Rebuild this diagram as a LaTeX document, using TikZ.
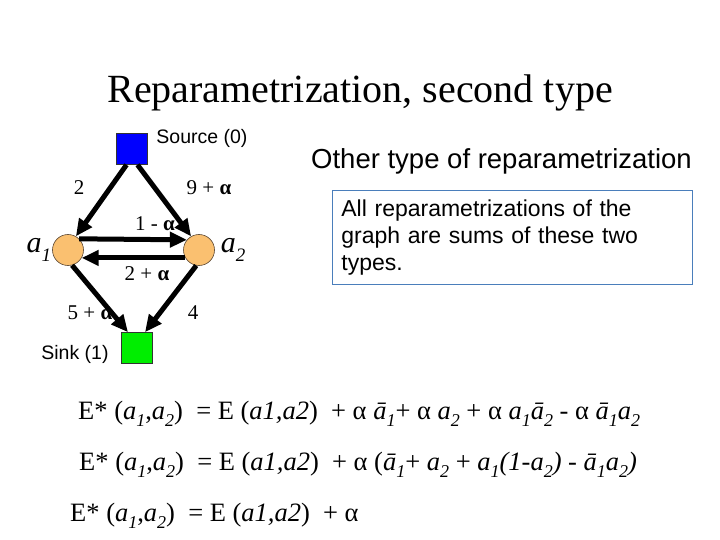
\documentclass[tikz,border=0pt]{standalone}
\usepackage{fontspec}
\setmainfont{Liberation Serif}
\newfontfamily\arialf{Liberation Sans}
\usetikzlibrary{arrows.meta}
\definecolor{srcblue}{RGB}{0,0,255}
\definecolor{sinkgreen}{RGB}{0,238,0}
\definecolor{nodeorange}{RGB}{250,192,112}
\definecolor{nodeedge}{RGB}{90,70,50}
\definecolor{boxblue}{RGB}{74,126,187}
\newcommand\sbx[1]{\raisebox{-0.28em}{\fontsize{18}{18}\selectfont\itshape #1}}
\newcommand\va[1]{\textit{a}\sbx{#1}}
\newcommand\vab[1]{\textit{ā}\sbx{#1}}
\newcommand\lsb[1]{\raisebox{-0.28em}{\fontsize{19}{19}\selectfont\itshape #1}}
\begin{document}
\begin{tikzpicture}[x=1pt,y=-1pt,
  sq/.style={draw=black!80, line width=0.6pt, minimum size=31pt, inner sep=0pt},
  circ/.style={circle, draw=nodeedge, line width=0.6pt, fill=nodeorange, minimum size=31pt, inner sep=0pt},
  arr/.style={line width=5pt, -{Triangle[length=17pt,width=15pt]}},
  elab/.style={font=\fontsize{21}{21}\selectfont, inner sep=0pt},
  sanslab/.style={font=\arialf\fontsize{19.5}{19.5}\selectfont, inner sep=0pt},
  eqn/.style={font=\fontsize{26.5}{26.5}\selectfont, anchor=base west, inner sep=0pt}]
\useasboundingbox (0,0) rectangle (720,540);
\fill[white] (0,0) rectangle (720,540);

% title
\node[font=\fontsize{40}{40}\selectfont, anchor=base, inner sep=0pt] (title) at (360,103) {Reparametrization, second type};

% graph nodes
\node[sq, fill=srcblue] (s) at (131.5,149) {};
\node[sq, fill=sinkgreen] (t) at (137,348) {};
\node[circ] (a1) at (68,250) {};
\node[circ] (a2) at (199,250) {};

\node[sanslab] (slab) at (202,138) {Source (0)};
\node[sanslab] (tlab) at (75,354) {Sink (1)};
\node[font=\fontsize{30}{30}\selectfont, inner sep=0pt] (a1lab) at (39,250) {\textit{a}\lsb{1}};
\node[font=\fontsize{30}{30}\selectfont, inner sep=0pt] (a2lab) at (233,250) {\textit{a}\lsb{2}};

% connectors
\draw[arr] ([xshift=-5pt]s.south) -- (a1.60);
\draw[arr] ([xshift=6pt]s.south) -- (a2.120);
\draw[arr] (a1.45) -- (a2.140);
\draw[arr] (a2.-150) -- (a1.-30);
\draw[arr] (a1.-75) -- ([xshift=-9pt]t.north);
\draw[arr] (a2.-100) -- ([xshift=8pt]t.north);

% edge labels
\node[elab] (l1) at (79,188) {2};
\node[elab] (l2) at (209,188) {9 + \textbf{α}};
\node[elab] (l3) at (155,224) {1 - \textbf{α}};
\node[elab] (l4) at (147,274) {2 + \textbf{α}};
\node[elab] (l5) at (90,313) {5 + \textbf{α}};
\node[elab] (l6) at (193,313) {4};

% right side
\node[font=\arialf\fontsize{27.5}{27.5}\selectfont, anchor=base west, inner sep=0pt] (other) at (311,169) {Other type of reparametrization};
\node[draw=boxblue, line width=0.8pt, anchor=north west, minimum width=360pt, minimum height=94pt,
      text width=342pt, inner xsep=9pt, inner ysep=5pt, align=left,
      font=\arialf\fontsize{23}{27}\selectfont] (box) at (332,190)
      {All reparametrizations of the\\graph are sums of these two\\types.};

% equations
\node[eqn] (e1) at (78,419) {E* (\va{1},\va{2})\ \ = E (\textit{a1,a2})\ \ + α \vab{1}+ α \va{2} + α \va{1}\vab{2} - α \vab{1}\va{2}};
\node[eqn] (e2) at (79,470) {E* (\va{1},\va{2})\ \ = E (\textit{a1,a2})\ \ + α (\vab{1}+ \va{2} + \va{1}\textit{(1-}\va{2}\textit{)} - \vab{1}\va{2}\textit{)}};
\node[eqn] (e3) at (70,521) {E* (\va{1},\va{2})\ \ = E (\textit{a1,a2})\ \ + α};
\end{tikzpicture}
\end{document}
